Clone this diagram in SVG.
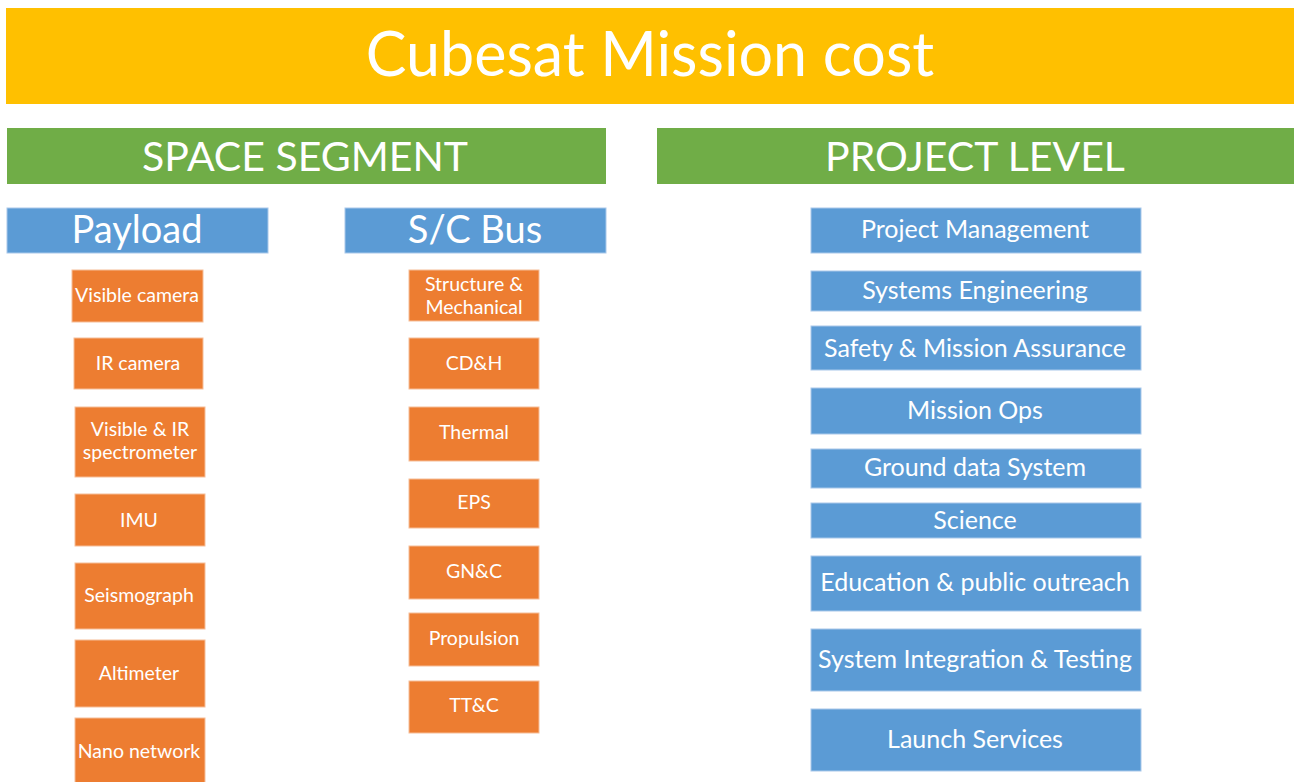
<svg xmlns="http://www.w3.org/2000/svg" width="1294" height="782" viewBox="0 0 1294 782">
<style>
text{font-family:Lato,"Open Sans","Liberation Sans",sans-serif;fill:#fff;text-anchor:middle;dominant-baseline:central}
.yl{fill:#FFC000}
.gr{fill:#70AD47}
.bl{fill:#5B9BD5;stroke:#A9C8EA;stroke-width:1}
.or{fill:#ED7D31;stroke:#F6BE98;stroke-width:1}
.t1{font-size:61px}
.t2{font-size:41px}
.t3{font-size:38px}
.t4{font-size:19.5px}
.t5{font-size:25px}
</style>
<rect width="1294" height="782" fill="#fff"/>
<g id="title"><rect class="yl" x="6" y="8" width="1288" height="96"/><text class="t1" x="650" y="52">Cubesat Mission cost</text></g>
<g id="space-segment"><rect class="gr" x="7" y="128" width="599" height="56"/><text class="t2" x="305" y="155">SPACE SEGMENT</text></g>
<g id="project-level"><rect class="gr" x="657" y="128" width="637" height="56"/><text class="t2" x="975" y="155">PROJECT LEVEL</text></g>
<g id="payload"><rect class="bl" x="7" y="208" width="261" height="45"/><text class="t3" x="137" y="228">Payload</text></g>
<g id="sc-bus"><rect class="bl" x="345" y="208" width="261" height="45"/><text class="t3" x="475" y="228">S/C Bus</text></g>

<g id="visible-camera"><rect class="or" x="72" y="270" width="131" height="52"/><text class="t4" x="137" y="294">Visible camera</text></g>
<g id="ir-camera"><rect class="or" x="74" y="338" width="129" height="51"/><text class="t4" x="138" y="362">IR camera</text></g>
<g id="vis-ir-spectrometer"><rect class="or" x="75" y="407" width="130" height="70"/><text class="t4" x="140" y="428">Visible &amp; IR</text><text class="t4" x="140" y="451">spectrometer</text></g>
<g id="imu"><rect class="or" x="75" y="494" width="130" height="52"/><text class="t4" x="139" y="519">IMU</text></g>
<g id="seismograph"><rect class="or" x="75" y="563" width="130" height="66"/><text class="t4" x="139" y="594">Seismograph</text></g>
<g id="altimeter"><rect class="or" x="75" y="640" width="130" height="67"/><text class="t4" x="139" y="672">Altimeter</text></g>
<g id="nano-network"><rect class="or" x="75" y="718" width="130" height="70"/><text class="t4" x="139" y="750">Nano network</text></g>

<g id="structure"><rect class="or" x="409" y="270" width="130" height="51"/><text class="t4" x="474" y="283">Structure &amp;</text><text class="t4" x="474" y="306">Mechanical</text></g>
<g id="cdh"><rect class="or" x="409" y="338" width="130" height="51"/><text class="t4" x="474" y="362">CD&amp;H</text></g>
<g id="thermal"><rect class="or" x="409" y="407" width="130" height="54"/><text class="t4" x="474" y="431">Thermal</text></g>
<g id="eps"><rect class="or" x="409" y="479" width="130" height="49"/><text class="t4" x="474" y="501">EPS</text></g>
<g id="gnc"><rect class="or" x="409" y="546" width="130" height="53"/><text class="t4" x="474" y="570">GN&amp;C</text></g>
<g id="propulsion"><rect class="or" x="409" y="613" width="130" height="53"/><text class="t4" x="474" y="637">Propulsion</text></g>
<g id="ttc"><rect class="or" x="409" y="681" width="130" height="52"/><text class="t4" x="474" y="704">TT&amp;C</text></g>

<g id="project-management"><rect class="bl" x="811" y="208" width="330" height="45"/><text class="t5" x="975" y="228">Project Management</text></g>
<g id="systems-engineering"><rect class="bl" x="811" y="271" width="330" height="40"/><text class="t5" x="975" y="289">Systems Engineering</text></g>
<g id="safety"><rect class="bl" x="811" y="326" width="330" height="44"/><text class="t5" x="975" y="347">Safety &amp; Mission Assurance</text></g>
<g id="mission-ops"><rect class="bl" x="811" y="388" width="330" height="46"/><text class="t5" x="975" y="409">Mission Ops</text></g>
<g id="ground-data"><rect class="bl" x="811" y="449" width="330" height="39"/><text class="t5" x="975" y="466">Ground data System</text></g>
<g id="science"><rect class="bl" x="811" y="503" width="330" height="35"/><text class="t5" x="975" y="519">Science</text></g>
<g id="education"><rect class="bl" x="811" y="556" width="330" height="55"/><text class="t5" x="975" y="581">Education &amp; public outreach</text></g>
<g id="integration"><rect class="bl" x="811" y="629" width="330" height="62"/><text class="t5" x="975" y="658">System Integration &amp; Testing</text></g>
<g id="launch"><rect class="bl" x="811" y="709" width="330" height="62"/><text class="t5" x="975" y="738">Launch Services</text></g>
<g id="connectors"></g>
</svg>
